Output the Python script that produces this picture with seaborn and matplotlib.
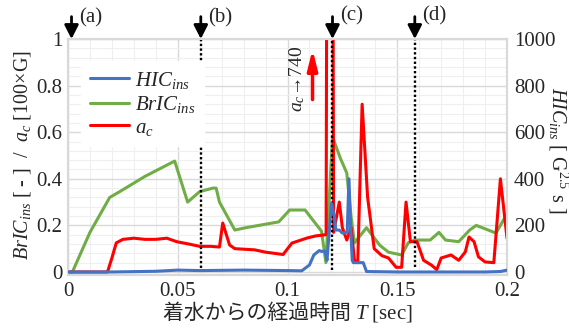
import numpy as np
import pandas as pd
import matplotlib
matplotlib.use("Agg")
import matplotlib.pyplot as plt
from matplotlib.ticker import MultipleLocator
from matplotlib.offsetbox import TextArea, HPacker, AnnotationBbox
import seaborn as sns

# ---------------- data ----------------
t_bric = [0, 0.002, 0.010, 0.019, 0.0236, 0.035, 0.0486, 0.0545, 0.060, 0.066,
          0.0675, 0.069, 0.076, 0.081, 0.096, 0.101, 0.108, 0.1155, 0.1175, 0.1205,
          0.124, 0.127, 0.129, 0.1305, 0.136, 0.142, 0.146, 0.152, 0.155, 0.158,
          0.165, 0.169, 0.172, 0.178, 0.183, 0.186, 0.195, 0.200]
bric = [0, 0, 0.17, 0.32, 0.345, 0.41, 0.476, 0.30, 0.345, 0.36,
        0.36, 0.30, 0.18, 0.19, 0.215, 0.266, 0.266, 0.175, 0.04, 0.58,
        0.49, 0.425, 0.235, 0.125, 0.19, 0.115, 0.085, 0.073, 0.125, 0.137,
        0.137, 0.17, 0.137, 0.13, 0.18, 0.20, 0.167, 0.25]

t_ac = [0, 0.018, 0.020, 0.022, 0.025, 0.030, 0.035, 0.040, 0.045, 0.0495,
        0.055, 0.060, 0.065, 0.069, 0.0705, 0.0736, 0.076, 0.085, 0.090, 0.098,
        0.102, 0.109, 0.113, 0.1176, 0.1193, 0.1210, 0.1236, 0.125, 0.127, 0.129,
        0.1305, 0.132, 0.134, 0.1365, 0.1395, 0.143, 0.146, 0.1495, 0.152, 0.154,
        0.156, 0.159, 0.162, 0.1655, 0.168, 0.170, 0.1745, 0.178, 0.181, 0.1827,
        0.185, 0.187, 0.190, 0.194, 0.197, 0.200]
ac = [0, 0, 0.06, 0.125, 0.14, 0.145, 0.14, 0.14, 0.145, 0.13,
      0.12, 0.11, 0.11, 0.107, 0.21, 0.116, 0.10, 0.095, 0.085, 0.075,
      0.124, 0.146, 0.155, 0.16, 7.4, 0.17, 0.30, 0.19, 0.137, 0.19,
      0.05, 0.04, 0.72, 0.32, 0.10, 0.07, 0.06, 0.02, 0.02, 0.30,
      0.13, 0.13, 0.05, 0.03, 0.01, 0.06, 0.073, 0.05, 0.086, 0.15,
      0.13, 0.065, 0.043, 0.04, 0.40, 0.145]

t_hic = [0, 0.02, 0.04, 0.05, 0.06, 0.08, 0.10, 0.1065, 0.110, 0.112,
         0.1145, 0.1155, 0.117, 0.118, 0.120, 0.1214, 0.122, 0.1236, 0.125, 0.1272,
         0.1280, 0.1288, 0.1295, 0.130, 0.1336, 0.1345, 0.136, 0.15, 0.17, 0.19,
         0.197, 0.200]
hic = [0, 0, 3, 8, 6, 8, 6, 5, 30, 73,
       92, 88, 90, 50, 295, 235, 180, 180, 167, 170,
       400, 180, 50, 40, 40, 40, 2, 0, 0, 0,
       2, 8]

x_ticks = [0, 0.05, 0.1, 0.15, 0.2]
x_ticklabels = ["0", "0.05", "0.1", "0.15", "0.2"]
yl_ticks = [0, 0.2, 0.4, 0.6, 0.8, 1]
yl_ticklabels = ["0", "0.2", "0.4", "0.6", "0.8", "1"]
yr_ticks = [0, 200, 400, 600, 800, 1000]
yr_ticklabels = ["0", "200", "400", "600", "800", "1000"]

events = ["(a)", "(b)", "(c)", "(d)"]
event_t = [0.0016, 0.0605, 0.1205, 0.158]
event_line_bottom = [None, 0.017, 0.008, 0.02]

# ---------------- style ----------------
sns.set_style("white")
plt.rcParams["font.family"] = ["Liberation Serif", "Noto Sans CJK JP", "DejaVu Serif"]
plt.rcParams["mathtext.fontset"] = "custom"
plt.rcParams["mathtext.rm"] = "Liberation Serif"
plt.rcParams["mathtext.it"] = "Liberation Serif:italic"
plt.rcParams["mathtext.bf"] = "Liberation Serif:bold"

BLUE = "#4472C4"
GREEN = "#70AD47"
RED = "#FF0000"
GRID_MAJ = "#d9d9d9"
GRID_MIN = "#efefef"

fig = plt.figure(figsize=(5.69, 3.30), dpi=100)
ax = fig.add_axes([68 / 569, 55 / 330, 439 / 569, 236 / 330])
ax2 = ax.twinx()

df_b = pd.DataFrame({"t": t_bric, "v": bric})
df_a = pd.DataFrame({"t": t_ac, "v": ac})
df_h = pd.DataFrame({"t": t_hic, "v": hic})

sns.lineplot(data=df_b, x="t", y="v", ax=ax, color=GREEN, lw=2.2, legend=False, zorder=3)
sns.lineplot(data=df_a, x="t", y="v", ax=ax, color=RED, lw=2.2, legend=False, zorder=4)
sns.lineplot(data=df_h, x="t", y="v", ax=ax2, color=BLUE, lw=2.2, legend=False, zorder=3)

ax.set_xlim(0, 0.2)
ax.set_ylim(-0.013, 1.0)
ax2.set_ylim(-13, 1000)

ax.set_xticks(x_ticks)
ax.set_xticklabels(x_ticklabels)
ax.set_yticks(yl_ticks)
ax.set_yticklabels(yl_ticklabels)
ax2.set_yticks(yr_ticks)
ax2.set_yticklabels(yr_ticklabels)
ax.xaxis.set_minor_locator(MultipleLocator(0.01))
ax.yaxis.set_minor_locator(MultipleLocator(0.04))

ax.grid(which="major", color=GRID_MAJ, lw=1.0, zorder=0)
ax.grid(which="minor", color=GRID_MIN, lw=0.8, zorder=0)
ax.set_axisbelow(True)

for a in (ax, ax2):
    for s in a.spines.values():
        s.set_color(GRID_MAJ)
        s.set_linewidth(1.5)
    a.tick_params(which="both", length=0, labelsize=15)
ax.tick_params(axis="x", pad=5)
ax.tick_params(axis="y", pad=4)
ax2.tick_params(axis="y", pad=5)
ax.set_xlabel("")
ax.set_ylabel("")
ax2.set_ylabel("")

# x label: Japanese text + italic T
xl_parts = [
    TextArea("着水からの経過時間 ", textprops=dict(fontsize=15, family=["Noto Sans CJK JP"])),
    TextArea(r"$T$ [sec]", textprops=dict(fontsize=15)),
]
xl_box = HPacker(children=xl_parts, align="baseline", pad=0, sep=0)
ab = AnnotationBbox(xl_box, (288 / 569, 1 - 313 / 330), xycoords="figure fraction",
                    frameon=False, box_alignment=(0.5, 0.5))
fig.add_artist(ab)

fig.text(23 / 569, 1 - 155 / 330, r"$BrIC_{ins}$ [ - ]  /  $a_c$ [100×G]",
         fontsize=14.5, rotation=90, ha="center", va="center")
fig.text(558 / 569, 1 - 150 / 330, r"$HIC_{ins}$ [ G$^{2.5}$ s ]",
         fontsize=14.5, rotation=270, ha="center", va="center")

# event markers
for lab, t, yb in zip(events, event_t, event_line_bottom):
    ax.annotate("", xy=(t, 1.0), xytext=(t, 1.096), xycoords="data",
                annotation_clip=False,
                arrowprops=dict(arrowstyle="-|>,head_length=0.55,head_width=0.28",
                                color="black", lw=2, mutation_scale=15,
                                shrinkA=0, shrinkB=0))
    ax.text(t + 0.0035, 1.1 if lab in ("(c)", "(d)") else 1.092, lab,
            fontsize=15, ha="left", va="center", clip_on=False)
    if yb is not None:
        ax.plot([t, t], [yb, 0.995], color="black", lw=1.7,
                linestyle=(0, (1, 1)), zorder=5)

# a_c -> 740 note
ax.text(0.1045, 0.828, r"$a_c$→740", rotation=90, fontsize=14,
        ha="center", va="center")
ax.annotate("", xy=(0.1114, 0.955), xytext=(0.1114, 0.74),
            arrowprops=dict(arrowstyle="-|>,head_length=0.8,head_width=0.2",
                            color=RED, lw=2.5, mutation_scale=15,
                            shrinkA=0, shrinkB=0))

# legend
h_line = plt.Line2D([], [], color=BLUE, lw=2.2)
g_line = plt.Line2D([], [], color=GREEN, lw=2.2)
r_line = plt.Line2D([], [], color=RED, lw=2.2)
leg = ax2.legend([h_line, g_line, r_line],
                 [r"$HIC_{ins}$", r"$BrIC_{ins}$", r"$a_c$"],
                 loc="upper left", bbox_to_anchor=(0.03, 0.905),
                 fontsize=15, frameon=True, fancybox=False, framealpha=1,
                 facecolor="white", edgecolor="white", handlelength=1.9,
                 handletextpad=0.3, labelspacing=0.15, borderpad=0.4,
                 borderaxespad=0)
leg.set_zorder(10)

fig.savefig("out.png", dpi=100)
